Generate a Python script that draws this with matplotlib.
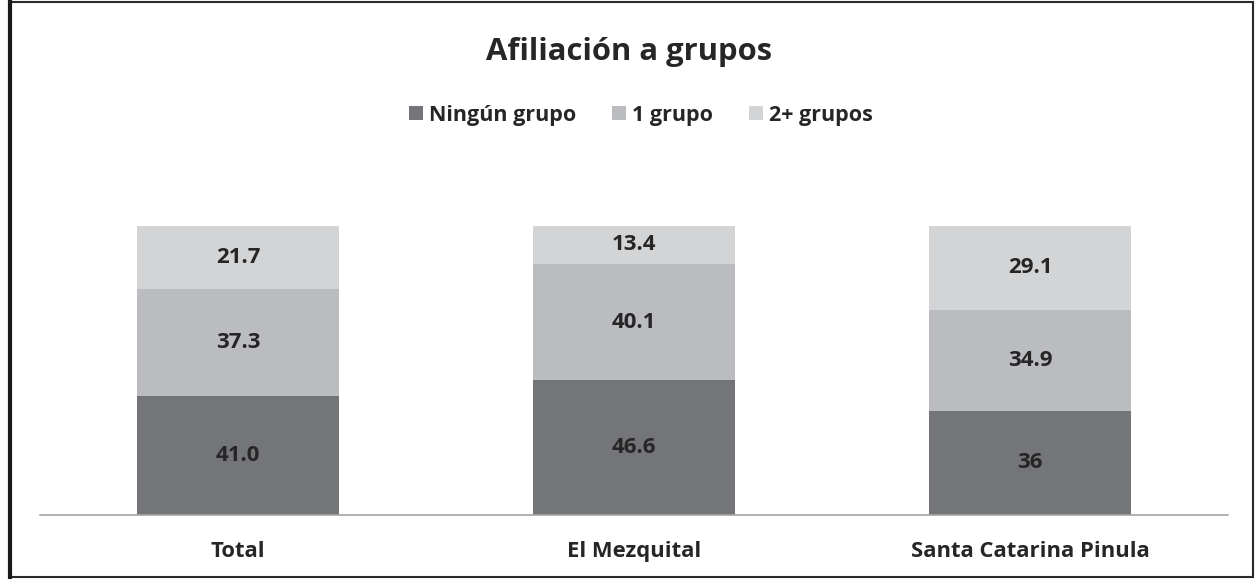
import matplotlib
matplotlib.use("Agg")
import matplotlib.pyplot as plt
from matplotlib.patches import Rectangle
import numpy as np

categories = ["Total", "El Mezquital", "Santa Catarina Pinula"]
ningun = [41.0, 46.6, 36]
uno = [37.3, 40.1, 34.9]
dos = [21.7, 13.4, 29.1]
ningun_lbl = ["41.0", "46.6", "36"]
uno_lbl = ["37.3", "40.1", "34.9"]
dos_lbl = ["21.7", "13.4", "29.1"]
series_names = ["Ningún grupo", "1 grupo", "2+ grupos"]
colors = ["#747579", "#BBBCC0", "#D3D4D6"]

plt.rcParams['font.family'] = ['Open Sans', 'DejaVu Sans']
fig = plt.figure(figsize=(12.57, 5.79), dpi=100)
ax = fig.add_axes([40/1257, 1-515/579, 1188/1257, (515-168)/579])

x = np.arange(len(categories))
w = 0.51
bottoms = np.zeros(len(categories))
for vals, lbls, name, c in zip([ningun, uno, dos], [ningun_lbl, uno_lbl, dos_lbl], series_names, colors):
    ax.bar(x, vals, w, bottom=bottoms, color=c, label=name, zorder=2)
    for xi, v, bt, l in zip(x, vals, bottoms, lbls):
        ax.text(xi, bt + v/2, l, ha='center', va='center', fontsize=16, fontweight='bold', color='#262626')
    bottoms = bottoms + np.array(vals)

ax.set_xlim(-0.5, len(categories)-0.5)
ax.set_ylim(0, 120)
ax.set_yticks([])
ax.set_xticks(x)
ax.set_xticklabels(categories, fontsize=15.8, fontweight='bold', color='#262626')
ax.tick_params(axis='x', length=0, pad=19)
for s in ['top', 'right', 'left']:
    ax.spines[s].set_visible(False)
ax.spines['bottom'].set_color('#A6A6A6')
ax.spines['bottom'].set_linewidth(1.2)

fig.text(0.5, 1-52/579, "Afiliación a grupos", ha='center', va='center', fontsize=22.3, fontweight='bold', color='#262626')
fig.legend(loc='center', bbox_to_anchor=(641/1257, 1-115/579), ncol=3, frameon=False,
           prop={'size': 15.5, 'weight': 'bold'}, handlelength=0.65, handleheight=0.65,
           handletextpad=0.3, columnspacing=1.65, labelcolor='#262626')

fig.add_artist(Rectangle((10/1257, 2/579), 1243/1257, 575/579, transform=fig.transFigure,
                         fill=False, edgecolor='#2a2a2a', linewidth=1.5))
fig.add_artist(plt.Line2D([10/1257, 10/1257], [2/579, 577/579], transform=fig.transFigure,
                          color='#1a1a1a', linewidth=3))

fig.savefig("out.png", dpi=100)
